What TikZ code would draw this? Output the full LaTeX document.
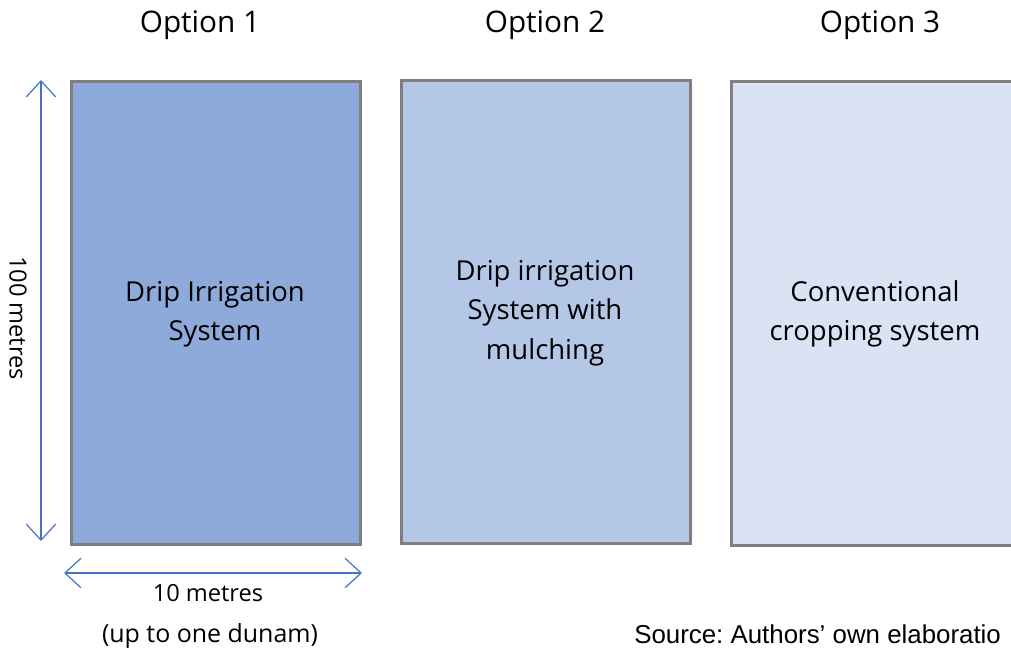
\documentclass[tikz,border=0pt]{standalone}
\usepackage{fontspec}
\setmainfont{Open Sans}
\newfontfamily\srcfont{Liberation Sans}
\usetikzlibrary{arrows.meta}
\definecolor{boxA}{HTML}{8EAADB}
\definecolor{boxB}{HTML}{B4C7E7}
\definecolor{boxC}{HTML}{DAE3F3}
\definecolor{edge}{HTML}{7F7F7F}
\definecolor{arrowblue}{HTML}{4472C4}
\frenchspacing
\tikzset{
  plot/.style={draw=edge, line width=2.2pt, inner sep=0pt, anchor=north west},
  boxtext/.style={align=center, font=\fontsize{20.6}{29.5}\selectfont, text=black},
  optlabel/.style={font=\fontsize{22.3}{26}\selectfont, text=black},
  dim/.style={draw=arrowblue, line width=0.9pt, {Straight Barb[length=12pt,width=22pt,line width=0.9pt]}-{Straight Barb[length=12pt,width=22pt,line width=0.9pt]}},
  dimtext/.style={font=\fontsize{17.7}{20}\selectfont, text=black}
}
\begin{document}
\begin{tikzpicture}[x=0.75pt,y=-0.75pt]
\useasboundingbox (0,0) rectangle (1011,650);
\begin{scope}
\clip (0,0) rectangle (1011,650);
\node[plot, fill=boxA, minimum width=289*0.75pt, minimum height=463*0.75pt] (b1) at (70,80) {};
\node[plot, fill=boxB, minimum width=289*0.75pt, minimum height=463*0.75pt] (b2) at (400,79) {};
\node[plot, fill=boxC, minimum width=330*0.75pt, minimum height=464*0.75pt] (b3) at (730,80) {};
\node[boxtext] (t1) at (215,314) {Drip Irrigation\\System};
\node[boxtext] (t2) at (545,313) {Drip irrigation\\System with\\mulching};
\node[boxtext] (t3) at (875,314) {Conventional\\cropping system};
\node[optlabel] (o1) at (200,25) {Option 1};
\node[optlabel] (o2) at (545,25) {Option 2};
\node[optlabel] (o3) at (880,25) {Option 3};
\coordinate (vt) at (41,80);
\coordinate (vb) at (41,541);
\draw[dim] (vb) -- (vt);
\coordinate (hl) at (64,573);
\coordinate (hr) at (362,573);
\draw[dim] (hl) -- (hr);
\node[dimtext, rotate=-90] (h) at (18,318) {100 metres};
\node[dimtext] (w) at (208,593) {10 metres};
\node[font=\fontsize{18.7}{22}\selectfont] (d) at (210,636) {(up to one dunam)};
\node[anchor=west, inner sep=0pt, font=\srcfont\fontsize{19.4}{22}\selectfont] (src) at (634,634) {Source: Authors’ own elaboratio};
\end{scope}
\end{tikzpicture}
\end{document}
